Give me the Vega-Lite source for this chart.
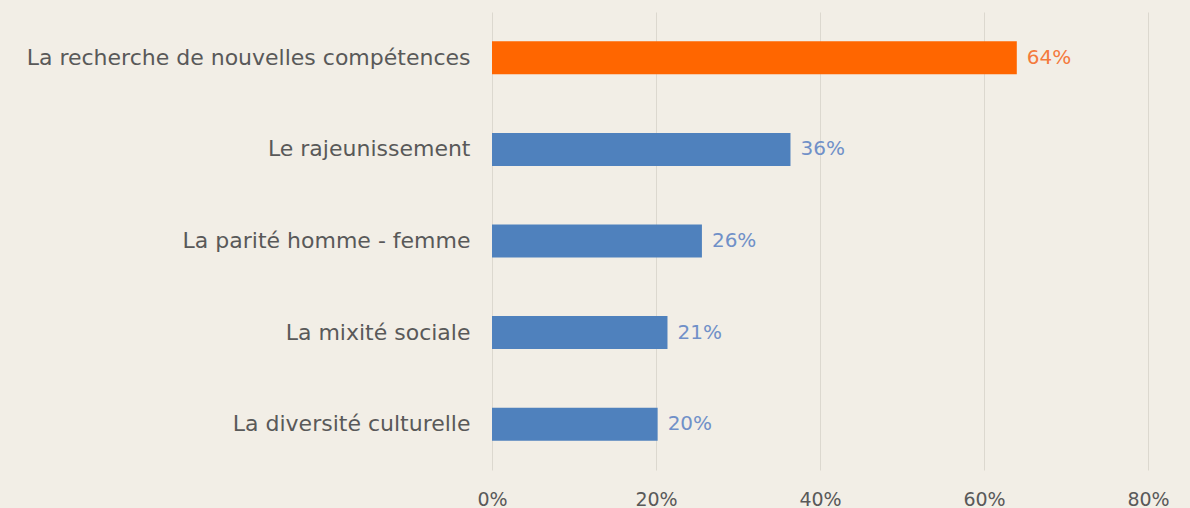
{
  "$schema": "https://vega.github.io/schema/vega-lite/v6.json",
  "width": 656,
  "height": 458,
  "autosize": "none",
  "padding": {"left": 492, "top": 12, "right": 42, "bottom": 38},
  "background": "#f2eee6",
  "config": {"view": {"stroke": null}, "font": "DejaVu Sans"},
  "data": {"values": [
    {"critere": "La recherche de nouvelles compétences", "part": 0.64},
    {"critere": "Le rajeunissement", "part": 0.364},
    {"critere": "La parité homme - femme", "part": 0.256},
    {"critere": "La mixité sociale", "part": 0.214},
    {"critere": "La diversité culturelle", "part": 0.202}
  ]},
  "encoding": {
    "y": {"field": "critere", "type": "nominal", "sort": null, "title": null,
      "axis": {"domain": false, "ticks": false, "labelFontSize": 22, "labelColor": "#595959", "labelPadding": 22, "labelLimit": 600}},
    "x": {"field": "part", "type": "quantitative", "title": null,
      "scale": {"domain": [0, 0.8]},
      "axis": {"format": ".0%", "values": [0, 0.2, 0.4, 0.6, 0.8], "domain": false, "ticks": false, "labelFlush": false, "labelFontSize": 19, "labelColor": "#595959", "labelPadding": 20, "gridColor": "#dcd8cf", "gridWidth": 1}}
  },
  "layer": [
    {"mark": {"type": "bar", "size": 33},
     "encoding": {"color": {"field": "critere", "type": "nominal", "legend": null,
       "scale": {"domain": ["La recherche de nouvelles compétences", "Le rajeunissement", "La parité homme - femme", "La mixité sociale", "La diversité culturelle"],
                 "range": ["#ff6600", "#4f81bd", "#4f81bd", "#4f81bd", "#4f81bd"]}}}},
    {"mark": {"type": "text", "align": "left", "dx": 10, "fontSize": 20},
     "encoding": {"text": {"field": "part", "type": "quantitative", "format": ".0%"},
       "color": {"field": "critere", "type": "nominal", "legend": null,
       "scale": {"domain": ["La recherche de nouvelles compétences", "Le rajeunissement", "La parité homme - femme", "La mixité sociale", "La diversité culturelle"],
                 "range": ["#f47a3c", "#7090c8", "#7090c8", "#7090c8", "#7090c8"]}}}}
  ],
  "resolve": {"scale": {"color": "independent"}}
}
